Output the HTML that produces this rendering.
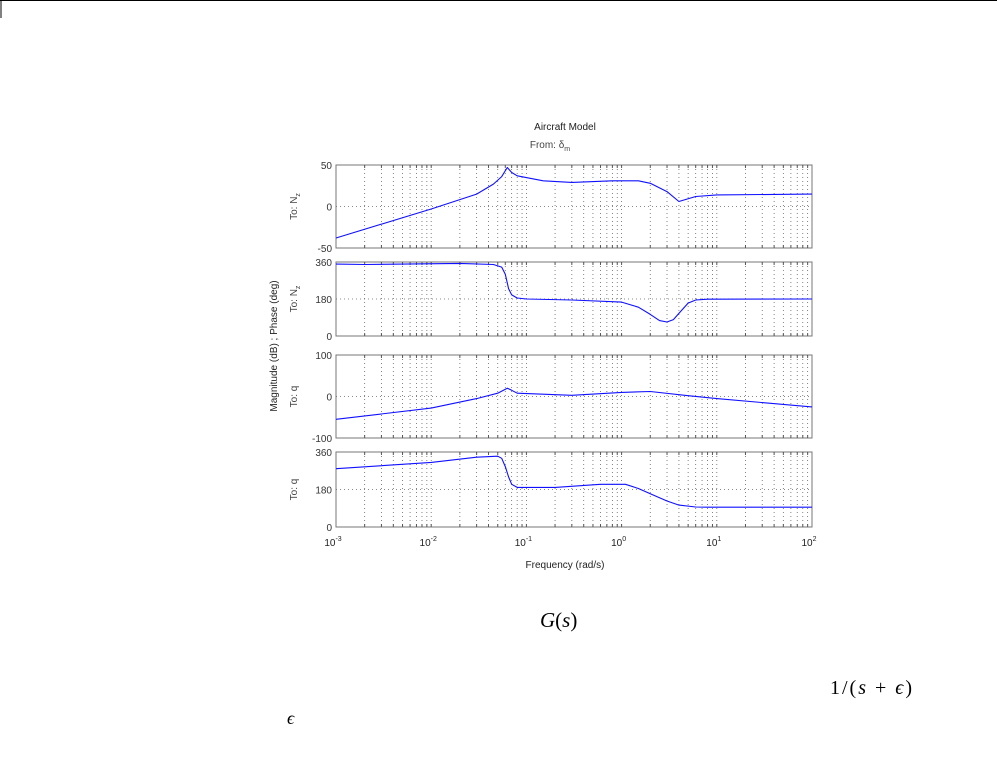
<!DOCTYPE html>
<html><head><meta charset="utf-8"><style>
body{margin:0;background:#fff;width:997px;height:753px;overflow:hidden;font-family:"Liberation Sans",sans-serif}
</style></head><body>
<svg id="s" width="997" height="753" xmlns="http://www.w3.org/2000/svg" font-family="Liberation Sans, sans-serif">
<line x1="0" y1="0.5" x2="997" y2="0.5" stroke="#000"/>
<line x1="1" y1="0" x2="1" y2="18" stroke="#000"/>
<text x="565" y="130" font-size="10" text-anchor="middle" fill="#222">Aircraft Model</text>
<text x="550" y="148" font-size="10" text-anchor="middle" fill="#444">From: δ<tspan font-size="7" dy="3">m</tspan></text>
<text x="565" y="568" font-size="10" text-anchor="middle" fill="#222">Frequency  (rad/s)</text>
<text transform="translate(277,346) rotate(-90)" font-size="10" text-anchor="middle" fill="#222">Magnitude (dB) ; Phase (deg)</text>
<text x="540" y="627" font-size="21" font-family="Liberation Serif, serif"><tspan font-style="italic">G</tspan>(<tspan font-style="italic">s</tspan>)</text>
<text x="830" y="694" font-size="20" font-family="Liberation Serif, serif" letter-spacing="2">1/(<tspan font-style="italic">s</tspan> + <tspan font-style="italic">ϵ</tspan>)</text>
<text x="287" y="724" font-size="18" font-family="Liberation Serif, serif" font-style="italic">ϵ</text>
<g id="g"></g>
</svg>
<script>
var g=document.getElementById('g'),L=336,R=812,D=(R-L)/5;
function X(f){return L+D*(Math.log10(f)+3);}
var panels=[
{t:165,b:248,lo:-50,hi:50,ticks:[[50,"50"],[0,"0"],[-50,"-50"]],lab:["To: N","z"],
 d:[[1e-3,-38],[1e-2,-3],[0.03,15],[0.045,27],[0.055,36],[0.063,47],[0.07,41],[0.08,37],[0.15,31],[0.3,29],[0.8,31],[1.5,31],[2,28],[3,18],[4,6],[6,12],[10,14],[100,15]]},
{t:262,b:336,lo:0,hi:360,ticks:[[360,"360"],[180,"180"],[0,"0"]],lab:["To: N","z"],
 d:[[1e-3,350],[0.002,348],[0.02,353],[0.045,348],[0.055,335],[0.06,300],[0.065,230],[0.07,200],[0.08,185],[0.1,180],[0.3,175],[1,165],[1.5,140],[2,105],[2.5,75],[3,68],[3.5,80],[4,110],[5,160],[6,175],[8,179],[100,180]]},
{t:355,b:438,lo:-100,hi:100,ticks:[[100,"100"],[0,"0"],[-100,"-100"]],lab:["To: q",""],
 d:[[1e-3,-55],[1e-2,-28],[0.03,-5],[0.05,8],[0.063,20],[0.07,15],[0.08,8],[0.3,3],[1,10],[2,12],[5,2],[10,-5],[100,-25]]},
{t:452,b:527,lo:0,hi:360,ticks:[[360,"360"],[180,"180"],[0,"0"]],lab:["To: q",""],
 d:[[1e-3,280],[0.01,310],[0.03,335],[0.05,340],[0.055,330],[0.06,290],[0.065,240],[0.07,205],[0.08,190],[0.2,190],[0.6,205],[1.1,205],[1.5,185],[2,160],[2.5,140],[3,125],[4,105],[6,96],[8,95],[100,95]]}
];
var h='';
panels.forEach(function(p,i){
 function Y(v){return p.b-(v-p.lo)/(p.hi-p.lo)*(p.b-p.t);}
 h+='<rect x="'+L+'" y="'+p.t+'" width="'+(R-L)+'" height="'+(p.b-p.t)+'" fill="#fff" stroke="#777"/>';
 for(var e=-3;e<2;e++)for(var k=1;k<10;k++){var x=X(k*Math.pow(10,e));if(k>1||e>-3){
  h+='<line x1="'+x+'" y1="'+p.t+'" x2="'+x+'" y2="'+p.b+'" stroke="#666" stroke-dasharray="1,3" stroke-width="0.8"/>';
  h+='<line x1="'+x+'" y1="'+p.b+'" x2="'+x+'" y2="'+(p.b-3)+'" stroke="#555"/>';
  h+='<line x1="'+x+'" y1="'+p.t+'" x2="'+x+'" y2="'+(p.t+3)+'" stroke="#555"/>';}}
 var mid=Y((p.lo+p.hi)/2);
 h+='<line x1="'+L+'" y1="'+mid+'" x2="'+R+'" y2="'+mid+'" stroke="#666" stroke-dasharray="1,3" stroke-width="0.8"/>';
 p.ticks.forEach(function(t){var y=Y(t[0]);h+='<text x="'+(L-4)+'" y="'+(y+4)+'" font-size="10" text-anchor="end" fill="#333">'+t[1]+'</text>';});
 var cy=(p.t+p.b)/2;
 h+='<text transform="translate(297,'+cy+') rotate(-90)" font-size="10" text-anchor="middle" fill="#444">'+p.lab[0]+(p.lab[1]?'<tspan font-size="7" dy="3">'+p.lab[1]+'</tspan>':'')+'</text>';
 var pts=p.d.map(function(a){return X(a[0]).toFixed(1)+','+Y(a[1]).toFixed(1);});
 h+='<polyline points="'+pts.join(' ')+'" fill="none" stroke="#1010ff" stroke-width="1.1" stroke-linejoin="round"/>';
});
for(var e=-3;e<=2;e++){var x=X(Math.pow(10,e));
 h+='<text x="'+(x-3)+'" y="546" font-size="10" text-anchor="middle" fill="#222">10<tspan font-size="7" dy="-5">'+e+'</tspan></text>';}
g.innerHTML=h;
</script>
</body></html>
